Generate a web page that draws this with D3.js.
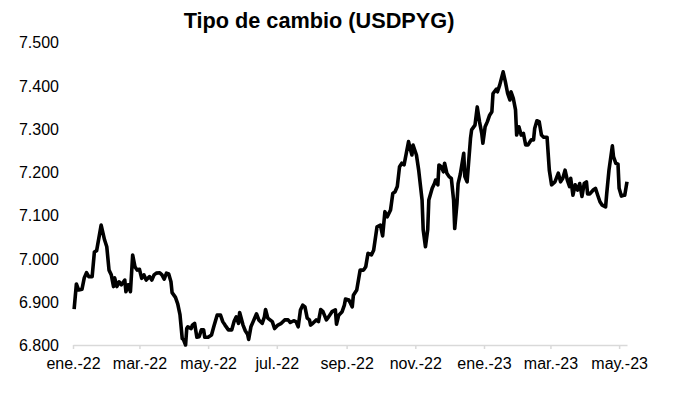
<!DOCTYPE html>
<html>
<head>
<meta charset="utf-8">
<script src="https://cdn.jsdelivr.net/npm/d3@7"></script>
<style>
  body { margin: 0; background: #fff; }
  svg text { font-family: Arial, "Liberation Sans", sans-serif; fill: #000; }
</style>
</head>
<body>
<div class="chart"></div>
<script>
// tipo de cambio USDPYG
const dates = [
  '2022-01-02','2022-01-04','2022-01-06','2022-01-09','2022-01-11','2022-01-13','2022-01-15','2022-01-18','2022-01-20','2022-01-22',
  '2022-01-26','2022-01-29','2022-01-31','2022-02-02','2022-02-04','2022-02-06','2022-02-07','2022-02-09','2022-02-11','2022-02-13',
  '2022-02-16','2022-02-17','2022-02-19','2022-02-21','2022-02-23','2022-02-25','2022-02-27','2022-03-01','2022-03-03','2022-03-05',
  '2022-03-07','2022-03-10','2022-03-12','2022-03-14','2022-03-16','2022-03-19','2022-03-21','2022-03-23','2022-03-25','2022-03-27',
  '2022-03-29','2022-03-30','2022-04-02','2022-04-04','2022-04-06','2022-04-08','2022-04-09','2022-04-11','2022-04-12','2022-04-13',
  '2022-04-16','2022-04-17','2022-04-19','2022-04-21','2022-04-23','2022-04-25','2022-04-27','2022-04-28','2022-05-01','2022-05-04',
  '2022-05-06','2022-05-09','2022-05-12','2022-05-14','2022-05-16','2022-05-19','2022-05-22','2022-05-24','2022-05-26','2022-05-28',
  '2022-05-29','2022-06-01','2022-06-03','2022-06-05','2022-06-06','2022-06-08','2022-06-10','2022-06-13','2022-06-15','2022-06-18',
  '2022-06-20','2022-06-21','2022-06-23','2022-06-27','2022-06-29','2022-07-02','2022-07-05','2022-07-08','2022-07-11','2022-07-13',
  '2022-07-16','2022-07-18','2022-07-20','2022-07-22','2022-07-24','2022-07-26','2022-07-28','2022-07-30','2022-07-31','2022-08-02',
  '2022-08-05','2022-08-07','2022-08-09','2022-08-11','2022-08-14','2022-08-16','2022-08-19','2022-08-22','2022-08-23','2022-08-25',
  '2022-08-28','2022-08-30','2022-08-31','2022-09-03','2022-09-06','2022-09-07','2022-09-10','2022-09-13','2022-09-16','2022-09-18',
  '2022-09-20','2022-09-23','2022-09-25','2022-09-28','2022-10-01','2022-10-03','2022-10-05','2022-10-07','2022-10-10','2022-10-12',
  '2022-10-14','2022-10-16','2022-10-18','2022-10-20','2022-10-22','2022-10-24','2022-10-26','2022-10-27','2022-10-29','2022-10-30',
  '2022-11-02','2022-11-04','2022-11-07','2022-11-08','2022-11-10','2022-11-12','2022-11-13','2022-11-16','2022-11-18','2022-11-19',
  '2022-11-21','2022-11-22','2022-11-24','2022-11-26','2022-11-27','2022-11-29','2022-12-01','2022-12-03','2022-12-05','2022-12-06',
  '2022-12-08','2022-12-09','2022-12-11','2022-12-14','2022-12-15','2022-12-17','2022-12-20','2022-12-21','2022-12-24','2022-12-26',
  '2022-12-28','2022-12-30','2022-12-31','2023-01-02','2023-01-04','2023-01-06','2023-01-08','2023-01-09','2023-01-12','2023-01-13',
  '2023-01-15','2023-01-18','2023-01-20','2023-01-22','2023-01-24','2023-01-25','2023-01-27','2023-01-29','2023-01-30','2023-02-01',
  '2023-02-03','2023-02-05','2023-02-07','2023-02-09','2023-02-12','2023-02-14','2023-02-15','2023-02-17','2023-02-19','2023-02-21',
  '2023-02-23','2023-02-26','2023-02-28','2023-03-02','2023-03-05','2023-03-08','2023-03-10','2023-03-12','2023-03-14','2023-03-16',
  '2023-03-18','2023-03-19','2023-03-21','2023-03-23','2023-03-25','2023-03-27','2023-03-29','2023-03-31','2023-04-02','2023-04-03',
  '2023-04-05','2023-04-08','2023-04-10','2023-04-12','2023-04-14','2023-04-16','2023-04-19','2023-04-20','2023-04-22','2023-04-25',
  '2023-04-26','2023-04-28','2023-04-30','2023-05-01','2023-05-03','2023-05-05','2023-05-06','2023-05-08'
];

const values = [
  6883, 6941, 6927, 6929, 6955, 6967, 6958, 6958, 7015, 7018,
  7077, 7043, 7027, 6973, 6962, 6935, 6955, 6935, 6946, 6939,
  6950, 6923, 6939, 6923, 7008, 6981, 6973, 6975, 6954, 6962,
  6950, 6958, 6950, 6962, 6966, 6967, 6962, 6952, 6966, 6964,
  6946, 6921, 6910, 6895, 6870, 6815, 6813, 6800, 6838, 6842,
  6838, 6846, 6850, 6818, 6819, 6835, 6835, 6818, 6818, 6823,
  6842, 6869, 6869, 6854, 6846, 6835, 6835, 6854, 6865, 6850,
  6875, 6846, 6833, 6825, 6813, 6842, 6854, 6872, 6858, 6850,
  6865, 6882, 6862, 6854, 6838, 6846, 6850, 6858, 6858, 6852,
  6856, 6854, 6842, 6881, 6892, 6888, 6862, 6858, 6846, 6850,
  6858, 6854, 6882, 6877, 6858, 6865, 6877, 6881, 6848, 6869,
  6877, 6892, 6906, 6904, 6888, 6915, 6927, 6973, 6973, 6981,
  7012, 7008, 7019, 7073, 7077, 7052, 7108, 7096, 7112, 7150,
  7154, 7166, 7212, 7220, 7216, 7243, 7270, 7258, 7239, 7262,
  7239, 7204, 7135, 7066, 7027, 7066, 7135, 7162, 7173, 7181,
  7170, 7216, 7212, 7200, 7220, 7197, 7189, 7185, 7135, 7069,
  7127, 7173, 7195, 7243, 7189, 7177, 7277, 7297, 7308, 7350,
  7316, 7289, 7266, 7304, 7316, 7331, 7339, 7381, 7391, 7385,
  7401, 7431, 7408, 7381, 7366, 7385, 7370, 7343, 7285, 7304,
  7285, 7289, 7262, 7262, 7274, 7274, 7300, 7318, 7316, 7285,
  7280, 7280, 7204, 7170, 7177, 7197, 7177, 7185, 7204, 7181,
  7166, 7185, 7146, 7170, 7158, 7173, 7143, 7173, 7177, 7149,
  7149, 7158, 7162, 7146, 7131, 7123, 7119, 7150, 7204, 7260,
  7235, 7220, 7218, 7162, 7144, 7146, 7146, 7177
];

const tickDates = ['2022-01-01', '2022-03-01', '2022-05-01', '2022-07-01', '2022-09-01',
  '2022-11-01', '2023-01-01', '2023-03-01', '2023-05-01'];
const tickLabels = ['ene.-22', 'mar.-22', 'may.-22', 'jul.-22', 'sep.-22',
  'nov.-22', 'ene.-23', 'mar.-23', 'may.-23'];
const yTicks = [6800, 6900, 7000, 7100, 7200, 7300, 7400, 7500];

const width = 689;
const height = 397;
const margin = { top: 42, right: 62, bottom: 52, left: 73 };

const parse = d3.timeParse('%Y-%m-%d');
const data = dates.map((d, i) => ({ date: parse(d), value: values[i] }));

const svg = d3.select('.chart').append('svg')
  .attr('width', width)
  .attr('height', height);

const x = d3.scaleTime()
  .domain([parse('2022-01-01'), parse('2023-05-08')])
  .range([margin.left, width - margin.right]);

const y = d3.scaleLinear()
  .domain([6800, 7500])
  .range([height - margin.bottom, margin.top]);

const locale = d3.formatLocale({ decimal: ',', thousands: '.', grouping: [3], currency: ['', ''] });
const fmt = locale.format(',d');

// eje x
const xAxis = svg.append('g')
  .attr('transform', 'translate(0,' + (height - margin.bottom) + ')')
  .call(d3.axisBottom(x)
    .tickValues(tickDates.map(parse))
    .tickFormat((d, i) => tickLabels[i])
    .tickSizeInner(4)
    .tickSizeOuter(0)
    .tickPadding(9));
xAxis.select('.domain').attr('stroke', '#d9d9d9').attr('stroke-width', 1.5);
xAxis.selectAll('.tick line').attr('stroke', '#d9d9d9').attr('stroke-width', 1.5);
xAxis.selectAll('text').attr('font-size', 16).attr('fill', '#000');

// eje y
const yAxis = svg.append('g')
  .attr('transform', 'translate(' + margin.left + ',0)')
  .call(d3.axisLeft(y)
    .tickValues(yTicks)
    .tickFormat(fmt)
    .tickSize(0)
    .tickPadding(14));
yAxis.select('.domain').remove();
yAxis.selectAll('text').attr('font-size', 16).attr('fill', '#000').attr('dy', '0.36em');

const line = d3.line()
  .x(d => x(d.date))
  .y(d => y(d.value));

svg.append('path')
  .datum(data)
  .attr('fill', 'none')
  .attr('stroke', '#000')
  .attr('stroke-width', 3.6)
  .attr('stroke-linejoin', 'round')
  .attr('d', line);

svg.append('text')
  .attr('x', 319)
  .attr('y', 28)
  .attr('text-anchor', 'middle')
  .attr('font-size', 21.7)
  .attr('font-weight', 'bold')
  .text('Tipo de cambio (USDPYG)');
</script>
</body>
</html>
